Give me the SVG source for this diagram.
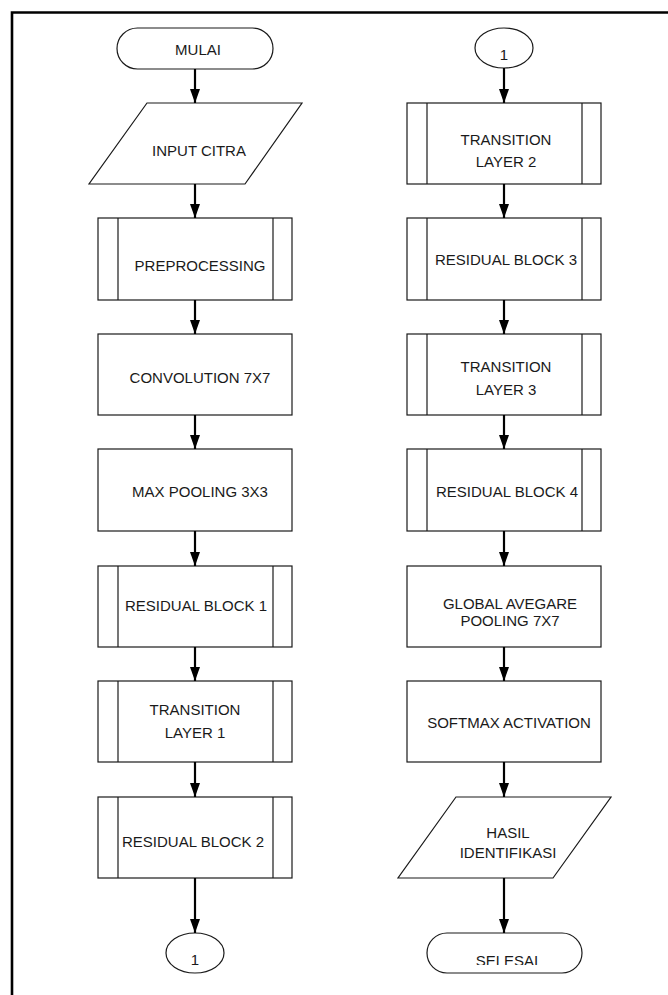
<svg xmlns="http://www.w3.org/2000/svg" width="668" height="995" viewBox="0 0 668 995">
  <style>
    .shape { fill: #ffffff; stroke: #1a1a1a; stroke-width: 1.2; }
    .bar { stroke: #1a1a1a; stroke-width: 1.2; }
    .lbl { font-family: "Liberation Sans", Arial, sans-serif; font-size: 15px; fill: #1a1a1a; text-anchor: middle; }
    .edge { stroke: #000000; stroke-width: 2.2; fill: none; }
    .frame { stroke: #000000; stroke-width: 2.6; fill: none; }
  </style>
  <defs>
    <marker id="head" viewBox="0 0 14 10" refX="14" refY="5" markerWidth="14" markerHeight="10" markerUnits="userSpaceOnUse" orient="auto">
      <path d="M0,0 L14,5 L0,10 Z" fill="#000000"/>
    </marker>
    <clipPath id="clipEnd">
      <rect x="420" y="930" width="170" height="35"/>
    </clipPath>
  </defs>

  <!-- page frame: top and left edges only -->
  <path class="frame" d="M12,995 L12,12.5 L668,12.5"/>

  <!-- left column -->
  <g id="mulai">
    <rect class="shape" x="117" y="28" width="156" height="41" rx="20.5" ry="20.5"/>
    <text class="lbl" x="198" y="55">MULAI</text>
  </g>
  <g id="input-citra">
    <polygon class="shape" points="147,103 302,103 245,184 89,184"/>
    <text class="lbl" x="199" y="156">INPUT CITRA</text>
  </g>
  <g id="preprocessing">
    <rect class="shape" x="98" y="218" width="194" height="82"/>
    <line class="bar" x1="118" y1="218" x2="118" y2="300"/>
    <line class="bar" x1="273" y1="218" x2="273" y2="300"/>
    <text class="lbl" x="200" y="271">PREPROCESSING</text>
  </g>
  <g id="convolution">
    <rect class="shape" x="98" y="334" width="194" height="81"/>
    <text class="lbl" x="200" y="383">CONVOLUTION 7X7</text>
  </g>
  <g id="max-pooling">
    <rect class="shape" x="98" y="449" width="194" height="82"/>
    <text class="lbl" x="200" y="497">MAX POOLING 3X3</text>
  </g>
  <g id="residual-1">
    <rect class="shape" x="98" y="566" width="194" height="81"/>
    <line class="bar" x1="118" y1="566" x2="118" y2="647"/>
    <line class="bar" x1="273" y1="566" x2="273" y2="647"/>
    <text class="lbl" x="196" y="611">RESIDUAL BLOCK 1</text>
  </g>
  <g id="transition-1">
    <rect class="shape" x="98" y="681" width="194" height="81"/>
    <line class="bar" x1="118" y1="681" x2="118" y2="762"/>
    <line class="bar" x1="273" y1="681" x2="273" y2="762"/>
    <text class="lbl" x="195" y="715">TRANSITION</text>
    <text class="lbl" x="195" y="738">LAYER 1</text>
  </g>
  <g id="residual-2">
    <rect class="shape" x="98" y="797" width="194" height="81"/>
    <line class="bar" x1="118" y1="797" x2="118" y2="878"/>
    <line class="bar" x1="273" y1="797" x2="273" y2="878"/>
    <text class="lbl" x="193" y="847">RESIDUAL BLOCK 2</text>
  </g>
  <g id="connector-out">
    <ellipse class="shape" cx="195" cy="953" rx="29" ry="20"/>
    <text class="lbl" x="195" y="965">1</text>
  </g>

  <!-- right column -->
  <g id="connector-in">
    <ellipse class="shape" cx="504" cy="48" rx="29" ry="20"/>
    <text class="lbl" x="504" y="60">1</text>
  </g>
  <g id="transition-2">
    <rect class="shape" x="407" y="103" width="194" height="81"/>
    <line class="bar" x1="427" y1="103" x2="427" y2="184"/>
    <line class="bar" x1="582" y1="103" x2="582" y2="184"/>
    <text class="lbl" x="506" y="145">TRANSITION</text>
    <text class="lbl" x="506" y="167">LAYER 2</text>
  </g>
  <g id="residual-3">
    <rect class="shape" x="407" y="218" width="194" height="82"/>
    <line class="bar" x1="427" y1="218" x2="427" y2="300"/>
    <line class="bar" x1="582" y1="218" x2="582" y2="300"/>
    <text class="lbl" x="506" y="265">RESIDUAL BLOCK 3</text>
  </g>
  <g id="transition-3">
    <rect class="shape" x="407" y="334" width="194" height="81"/>
    <line class="bar" x1="427" y1="334" x2="427" y2="415"/>
    <line class="bar" x1="582" y1="334" x2="582" y2="415"/>
    <text class="lbl" x="506" y="372">TRANSITION</text>
    <text class="lbl" x="506" y="395">LAYER 3</text>
  </g>
  <g id="residual-4">
    <rect class="shape" x="407" y="449" width="194" height="82"/>
    <line class="bar" x1="427" y1="449" x2="427" y2="531"/>
    <line class="bar" x1="582" y1="449" x2="582" y2="531"/>
    <text class="lbl" x="507" y="497">RESIDUAL BLOCK 4</text>
  </g>
  <g id="global-avg-pooling">
    <rect class="shape" x="407" y="566" width="194" height="81"/>
    <text class="lbl" x="510" y="609">GLOBAL AVEGARE</text>
    <text class="lbl" x="510" y="626">POOLING 7X7</text>
  </g>
  <g id="softmax">
    <rect class="shape" x="407" y="681" width="194" height="81"/>
    <text class="lbl" x="509" y="728">SOFTMAX ACTIVATION</text>
  </g>
  <g id="hasil">
    <polygon class="shape" points="456,797 611,797 553,878 398,878"/>
    <text class="lbl" x="508" y="838">HASIL</text>
    <text class="lbl" x="508" y="858">IDENTIFIKASI</text>
  </g>
  <g id="selesai">
    <rect class="shape" x="427" y="933" width="155" height="40" rx="20" ry="20"/>
    <text class="lbl" x="507" y="966" clip-path="url(#clipEnd)">SELESAI</text>
  </g>

  <!-- connectors -->
  <g id="edges">
    <line class="edge" x1="195" y1="69" x2="195" y2="103" marker-end="url(#head)"/>
    <line class="edge" x1="195" y1="184" x2="195" y2="218" marker-end="url(#head)"/>
    <line class="edge" x1="195" y1="300" x2="195" y2="334" marker-end="url(#head)"/>
    <line class="edge" x1="195" y1="415" x2="195" y2="449" marker-end="url(#head)"/>
    <line class="edge" x1="195" y1="531" x2="195" y2="566" marker-end="url(#head)"/>
    <line class="edge" x1="195" y1="647" x2="195" y2="681" marker-end="url(#head)"/>
    <line class="edge" x1="195" y1="762" x2="195" y2="797" marker-end="url(#head)"/>
    <line class="edge" x1="195" y1="878" x2="195" y2="933" marker-end="url(#head)"/>
    <line class="edge" x1="504" y1="68" x2="504" y2="103" marker-end="url(#head)"/>
    <line class="edge" x1="504" y1="184" x2="504" y2="218" marker-end="url(#head)"/>
    <line class="edge" x1="504" y1="300" x2="504" y2="334" marker-end="url(#head)"/>
    <line class="edge" x1="504" y1="415" x2="504" y2="449" marker-end="url(#head)"/>
    <line class="edge" x1="504" y1="531" x2="504" y2="566" marker-end="url(#head)"/>
    <line class="edge" x1="504" y1="647" x2="504" y2="681" marker-end="url(#head)"/>
    <line class="edge" x1="504" y1="762" x2="504" y2="797" marker-end="url(#head)"/>
    <line class="edge" x1="504" y1="878" x2="504" y2="933" marker-end="url(#head)"/>
  </g>
</svg>
